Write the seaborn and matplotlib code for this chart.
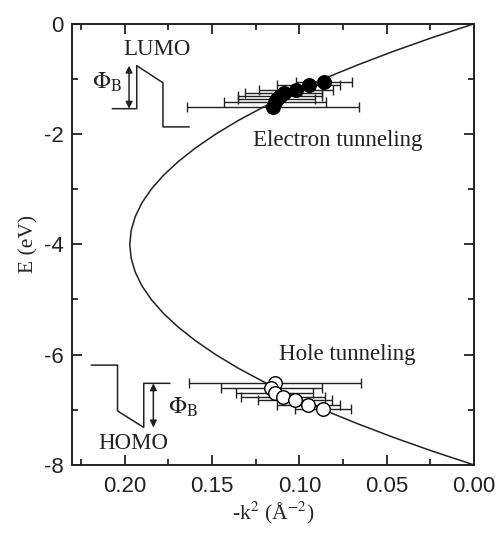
import numpy as np
import pandas as pd
import matplotlib
matplotlib.use('Agg')
import matplotlib.pyplot as plt
from matplotlib.ticker import MultipleLocator
import seaborn as sns

# ---- data ----
curve_E = [0.0, -0.25, -0.5, -0.75, -1.0, -1.25, -1.5, -1.75, -2.0, -2.25, -2.5,
           -2.75, -3.0, -3.25, -3.5, -3.75, -4.0, -4.25, -4.5, -4.75, -5.0,
           -5.25, -5.5, -5.75, -6.0, -6.25, -6.5, -6.75, -7.0, -7.25, -7.5,
           -7.75, -8.0]
curve_k = [0.0, 0.0239, 0.0462, 0.0669, 0.0862, 0.1039, 0.1200, 0.1347, 0.1478,
           0.1593, 0.1693, 0.1778, 0.1847, 0.1901, 0.1939, 0.1962, 0.1970,
           0.1962, 0.1939, 0.1901, 0.1847, 0.1778, 0.1693, 0.1593, 0.1478,
           0.1347, 0.1200, 0.1039, 0.0862, 0.0669, 0.0462, 0.0239, 0.0]

elec_k = [0.0860, 0.0946, 0.1020, 0.1090, 0.1110, 0.1130, 0.1140, 0.1150]
elec_E = [-1.05, -1.11, -1.20, -1.26, -1.31, -1.36, -1.42, -1.51]
elec_err = [0.016, 0.018, 0.021, 0.022, 0.024, 0.022, 0.029, 0.049]

hole_k = [0.1140, 0.1160, 0.1140, 0.1095, 0.1025, 0.0950, 0.0862]
hole_E = [-6.51, -6.60, -6.70, -6.77, -6.83, -6.91, -6.99]
hole_err = [0.049, 0.029, 0.022, 0.024, 0.021, 0.018, 0.016]

xticks = [0.20, 0.15, 0.10, 0.05, 0.00]
xticklabels = ['0.20', '0.15', '0.10', '0.05', '0.00']
yticks = [0, -2, -4, -6, -8]
yticklabels = ['0', '-2', '-4', '-6', '-8']

# inset band diagrams (annotation shapes)
lumo_k = [0.207, 0.193, 0.193, 0.178, 0.178, 0.163]
lumo_E = [-1.54, -1.54, -0.76, -1.07, -1.87, -1.87]
homo_k = [0.219, 0.204, 0.204, 0.189, 0.189, 0.174]
homo_E = [-6.19, -6.19, -7.02, -7.32, -6.52, -6.52]

# ---- style ----
sns.set_style('ticks')
plt.rcParams.update({
    'font.family': ['Liberation Sans', 'DejaVu Sans'],
    'mathtext.fontset': 'stix',
    'axes.linewidth': 1.4,
    'xtick.major.width': 1.3, 'ytick.major.width': 1.3,
    'xtick.minor.width': 1.3, 'ytick.minor.width': 1.3,
    'xtick.major.size': 7, 'ytick.major.size': 7,
    'xtick.minor.size': 4, 'ytick.minor.size': 4,
    'axes.edgecolor': '#222222',
})
serif = ['Liberation Serif', 'DejaVu Serif']

fig = plt.figure(figsize=(4.97, 5.40), dpi=100)
ax = fig.add_axes([0.145, 0.139, 0.809, 0.817])

curve_df = pd.DataFrame({'k': curve_k, 'E': curve_E})
sns.lineplot(data=curve_df, x='k', y='E', sort=False, estimator=None,
             color='#222222', linewidth=1.1, ax=ax, zorder=1)

ax.errorbar(elec_k, elec_E, xerr=elec_err, fmt='none', ecolor='#222222',
            elinewidth=1.0, capsize=3.5, capthick=1.0, zorder=2)
ax.errorbar(hole_k, hole_E, xerr=hole_err, fmt='none', ecolor='#222222',
            elinewidth=1.0, capsize=3.5, capthick=1.0, zorder=2)

sns.scatterplot(x=elec_k, y=elec_E, color='black', edgecolor='black',
                s=95, linewidth=1.0, ax=ax, zorder=3)
sns.scatterplot(x=hole_k, y=hole_E, color='white', edgecolor='black',
                s=95, linewidth=1.0, ax=ax, zorder=3)

# band diagrams
ax.plot(lumo_k, lumo_E, color='#222222', lw=1.1)
ax.plot(homo_k, homo_E, color='#222222', lw=1.1)
ax.annotate('', xy=(0.1974, -0.76), xytext=(0.1974, -1.54),
            arrowprops=dict(arrowstyle='<|-|>', color='#222222', lw=1.1,
                            mutation_scale=10, shrinkA=0, shrinkB=0))
ax.annotate('', xy=(0.1835, -6.52), xytext=(0.1835, -7.32),
            arrowprops=dict(arrowstyle='<|-|>', color='#222222', lw=1.1,
                            mutation_scale=10, shrinkA=0, shrinkB=0))

ax.text(0.1814, -0.47, 'LUMO', family=serif, fontsize=16.5, ha='center', va='center', color='#222222')
ax.text(0.195, -7.62, 'HOMO', family=serif, fontsize=16.5, ha='center', va='center', color='#222222')
ax.text(0.210, -1.07, r'$\Phi_{\mathrm{B}}$', fontsize=17, ha='center', va='center', color='#222222')
ax.text(0.1665, -6.95, r'$\Phi_{\mathrm{B}}$', fontsize=17, ha='center', va='center', color='#222222')
ax.text(0.078, -2.12, 'Electron tunneling', family=serif, fontsize=16.5, ha='center', va='center', color='#222222')
ax.text(0.0723, -5.99, 'Hole tunneling', family=serif, fontsize=16.5, ha='center', va='center', color='#222222')

ax.set_xlim(0.23, 0.0)
ax.set_ylim(-8, 0)
ax.set_xticks(xticks)
ax.set_xticklabels(xticklabels)
ax.set_yticks(yticks)
ax.set_yticklabels(yticklabels)
ax.xaxis.set_minor_locator(MultipleLocator(0.025))
ax.yaxis.set_minor_locator(MultipleLocator(1))
ax.tick_params(which='both', direction='in', top=True, right=True,
               labelsize=16, colors='#222222')
ax.tick_params(axis='x', pad=8)
ax.tick_params(axis='y', pad=6)

ax.set_xlabel(r'-k$^{2}$ (Å$^{\mathrm{-2}}$)', family=serif, fontsize=15.5, labelpad=2)
ax.set_ylabel('E (eV)', family=serif, fontsize=15.5, labelpad=4)
for s in ax.spines.values():
    s.set_visible(True)

fig.savefig('out.png', dpi=100)
